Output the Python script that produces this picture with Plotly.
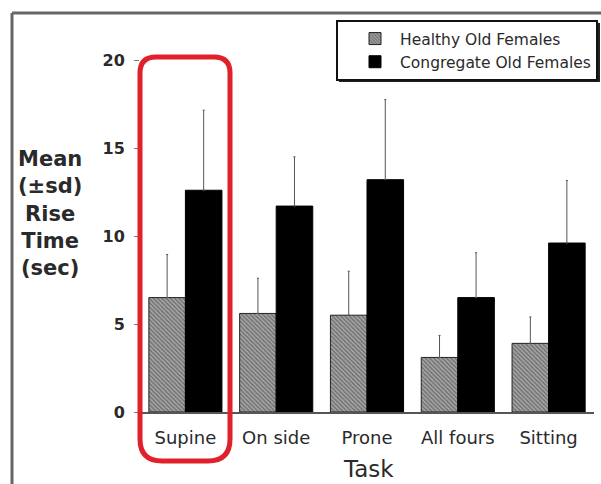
import plotly.graph_objects as go

categories = ["Supine", "On side", "Prone", "All fours", "Sitting"]
healthy = [6.5, 5.6, 5.5, 3.1, 3.9]
healthy_sd = [2.45, 2.0, 2.5, 1.25, 1.5]
congregate = [12.6, 11.7, 13.2, 6.5, 9.6]
congregate_sd = [4.55, 2.8, 4.55, 2.55, 3.55]
y_ticks = [0, 5, 10, 15, 20]

W, H = 601, 484
ML, MR, MT, MB = 140, 7, 60, 72
PW, PH = W - ML - MR, H - MT - MB


def px(x):
    return (x - ML) / PW


def py(y):
    return (H - MB - y) / PH


FONT = "DejaVu Sans"
TXT = "#2a2a2a"

fig = go.Figure()
fig.add_trace(go.Bar(
    x=categories, y=healthy, name="Healthy Old Females", legendgroup="a",
    marker=dict(color="#8a8a8a", line=dict(color="#222", width=1),
                pattern=dict(shape="\\", fgcolor="#333333", bgcolor="#a6a6a6",
                             size=3, solidity=0.45)),
    error_y=dict(type="data", array=healthy_sd, arrayminus=[0] * 5,
                 symmetric=False, color="#555", thickness=1, width=1),
))
fig.add_trace(go.Bar(
    x=categories, y=congregate, name="Congregate Old Females", legendgroup="b",
    marker=dict(color="#000000", line=dict(color="#000", width=1)),
    error_y=dict(type="data", array=congregate_sd, arrayminus=[0] * 5,
                 symmetric=False, color="#555", thickness=1, width=1),
))

# red rounded highlight box (pixel geometry -> paper)
L, R, T, B = 140, 230, 57, 461
rt, rb = 16, 22
path = (f"M {px(L)},{py(T + rt)} Q {px(L)},{py(T)} {px(L + rt)},{py(T)} "
        f"L {px(R - rt)},{py(T)} Q {px(R)},{py(T)} {px(R)},{py(T + rt)} "
        f"L {px(R)},{py(B - rb)} Q {px(R)},{py(B)} {px(R - rb)},{py(B)} "
        f"L {px(L + rb)},{py(B)} Q {px(L)},{py(B)} {px(L)},{py(B - rb)} Z")

shapes = [
    dict(type="path", xref="paper", yref="paper", path=path,
         line=dict(color="#e0202a", width=5), layer="above"),
    # outer frame lines
    dict(type="line", xref="paper", yref="paper", x0=px(12), x1=px(W + 5),
         y0=py(13), y1=py(13), line=dict(color="#666", width=3)),
    dict(type="line", xref="paper", yref="paper", x0=px(12), x1=px(12),
         y0=py(13), y1=py(H + 5), line=dict(color="#666", width=3)),
    # legend shadow
    dict(type="rect", xref="paper", yref="paper", x0=px(339), x1=px(600),
         y0=py(82), y1=py(23), fillcolor="#222", line=dict(width=0), layer="below"),
]

annotations = [
    dict(text="Mean<br>(±sd)<br>Rise<br>Time<br>(sec)", xref="paper", yref="paper",
         x=px(50), y=py(213), showarrow=False, xanchor="center", yanchor="middle",
         font=dict(family=FONT, size=21, color=TXT, weight="bold")),
    dict(text="Task", xref="paper", yref="paper", x=px(368), y=py(469),
         showarrow=False, xanchor="center", yanchor="middle",
         font=dict(family=FONT, size=23, color=TXT)),
]

fig.update_layout(
    width=W, height=H,
    margin=dict(l=ML, r=MR, t=MT, b=MB, autoexpand=False),
    paper_bgcolor="white", plot_bgcolor="white",
    barmode="group", bargap=0.195, bargroupgap=0,
    showlegend=True,
    legend=dict(x=px(336), y=py(20), xanchor="left", yanchor="top",
                bgcolor="white", bordercolor="#111", borderwidth=2,
                font=dict(family=FONT, size=15.5, color=TXT),
                indentation=12, itemwidth=40, tracegroupgap=5,
                traceorder="normal"),
    xaxis=dict(showline=True, linecolor="#555", linewidth=2, ticks="",
               tickfont=dict(family=FONT, size=18, color=TXT),
               ticklabelstandoff=8,
               showgrid=False, zeroline=False, automargin=False,
               fixedrange=True),
    yaxis=dict(range=[0, 20], tickvals=y_ticks, showline=False, showgrid=False,
               zeroline=False, ticks="outside", ticklen=5, tickcolor="#777",
               tickfont=dict(family=FONT, size=16, color=TXT, weight="bold"),
               ticklabelstandoff=6, automargin=False),
    shapes=shapes,
    annotations=annotations,
)

fig.write_html("out.html")
